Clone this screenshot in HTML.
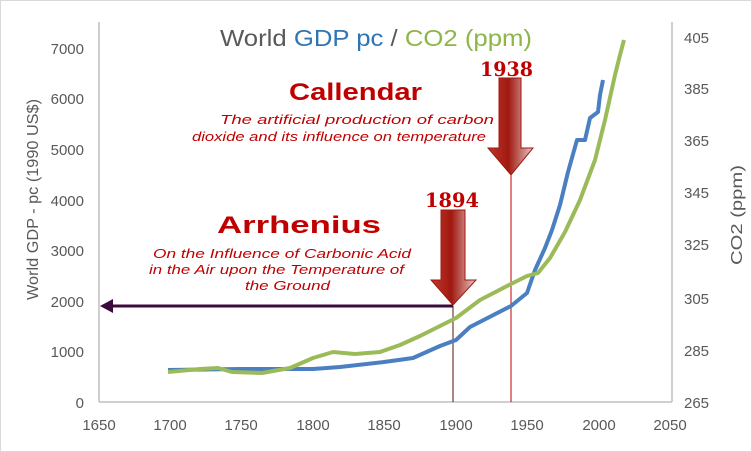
<!DOCTYPE html>
<html><head><style>body{margin:0;background:#fff}svg{display:block}text{font-family:"Liberation Sans",sans-serif}</style></head><body>
<svg width="752" height="452" viewBox="0 0 752 452" xmlns="http://www.w3.org/2000/svg">
<defs>
<linearGradient id="g" x1="0" x2="1"><stop offset="0" stop-color="#c0392b"/><stop offset="0.45" stop-color="#a01810"/><stop offset="1" stop-color="#e8c8c4"/></linearGradient>
</defs>
<rect x="0.5" y="0.5" width="751" height="451" fill="#fff" stroke="#d9d9d9"/>
<text x="220" y="46" textLength="312" lengthAdjust="spacingAndGlyphs" font-size="23" fill="#595959">World <tspan fill="#2e75b6">GDP pc</tspan> / <tspan fill="#8db548">CO2 (ppm)</tspan></text>
<g stroke="#bfbfbf" stroke-width="1.5" fill="none">
<line x1="99" y1="22" x2="99" y2="402"/><line x1="99" y1="402" x2="672" y2="402"/><line x1="672" y1="22" x2="672" y2="402"/>
</g>
<g font-size="15" fill="#595959" text-anchor="end">
<text x="84" y="408">0</text><text x="84" y="357">1000</text><text x="84" y="307">2000</text><text x="84" y="256">3000</text><text x="84" y="206">4000</text><text x="84" y="155">5000</text><text x="84" y="104">6000</text><text x="84" y="54">7000</text>
</g>
<g font-size="15" fill="#595959" text-anchor="start">
<text x="684" y="408">265</text><text x="684" y="356">285</text><text x="684" y="304">305</text><text x="684" y="250">325</text><text x="684" y="198">345</text><text x="684" y="146">365</text><text x="684" y="94">385</text><text x="684" y="43">405</text>
</g>
<g font-size="15" fill="#595959" text-anchor="middle">
<text x="99" y="430">1650</text><text x="170" y="430">1700</text><text x="241" y="430">1750</text><text x="313" y="430">1800</text><text x="384" y="430">1850</text><text x="456" y="430">1900</text><text x="527" y="430">1950</text><text x="599" y="430">2000</text><text x="670" y="430">2050</text>
</g>
<text transform="translate(38,300) rotate(-90)" textLength="201" lengthAdjust="spacingAndGlyphs" font-size="16" fill="#595959">World GDP - pc (1990 US$)</text>
<text transform="translate(742,265) rotate(-90)" textLength="100" lengthAdjust="spacingAndGlyphs" font-size="16" fill="#595959">CO2 (ppm)</text>
<line x1="453" y1="306" x2="453" y2="402" stroke="#5a1010" stroke-width="1"/>
<line x1="511" y1="175" x2="511" y2="402" stroke="#c00000" stroke-width="1"/>
<polyline fill="none" stroke="#4a7fc1" stroke-width="4" stroke-linejoin="round" points="168,370 240,369 313,369 340,367 384,362 413,358 440,346 456,340 470,327 511,306 527,293 535,270 545,248 552,230 560,205 568,172 577,140 585,140 590,118 598,112 600,95 603,80"/>
<polyline fill="none" stroke="#9bbb59" stroke-width="4" stroke-linejoin="round" points="168,372 200,369 218,368 232,372 262,373 290,368 313,358 333,352 355,354 380,352 400,345 420,336 456,318 480,300 511,284 527,276 538,273 550,258 565,232 580,200 595,160 605,120 615,75 620,55 624,40"/>
<line x1="453" y1="306" x2="112" y2="306" stroke="#3d0a3d" stroke-width="3"/>
<polygon points="100,306 113,299 113,313" fill="#3d0a3d"/>
<polygon points="441,210 465,210 465,280 476,280 453,305 431,280 441,280" fill="url(#g)" stroke="#a01810" stroke-width="1"/>
<polygon points="499,78 521,78 521,148 533,148 511,175 488,148 499,148" fill="url(#g)" stroke="#a01810" stroke-width="1"/>
<g fill="#c00000" font-weight="bold">
<text x="425" y="207" textLength="54" lengthAdjust="spacingAndGlyphs" font-size="20" style="font-family:'DejaVu Serif',serif">1894</text>
<text x="480" y="76" textLength="53" lengthAdjust="spacingAndGlyphs" font-size="20" style="font-family:'DejaVu Serif',serif">1938</text>
<text x="289" y="100" textLength="133" lengthAdjust="spacingAndGlyphs" font-size="24">Callendar</text>
<text x="217" y="233" textLength="164" lengthAdjust="spacingAndGlyphs" font-size="24">Arrhenius</text>
</g>
<g fill="#c00000" font-style="italic" font-size="13">
<text x="220" y="124" textLength="274" lengthAdjust="spacingAndGlyphs">The artificial production of carbon</text>
<text x="192" y="141" textLength="294" lengthAdjust="spacingAndGlyphs">dioxide and its influence on temperature</text>
<text x="153" y="258" textLength="258" lengthAdjust="spacingAndGlyphs">On the Influence of Carbonic Acid</text>
<text x="149" y="274" textLength="255" lengthAdjust="spacingAndGlyphs">in the Air upon the Temperature of</text>
<text x="245" y="290" textLength="85" lengthAdjust="spacingAndGlyphs">the Ground</text>
</g>
</svg>
</body></html>
